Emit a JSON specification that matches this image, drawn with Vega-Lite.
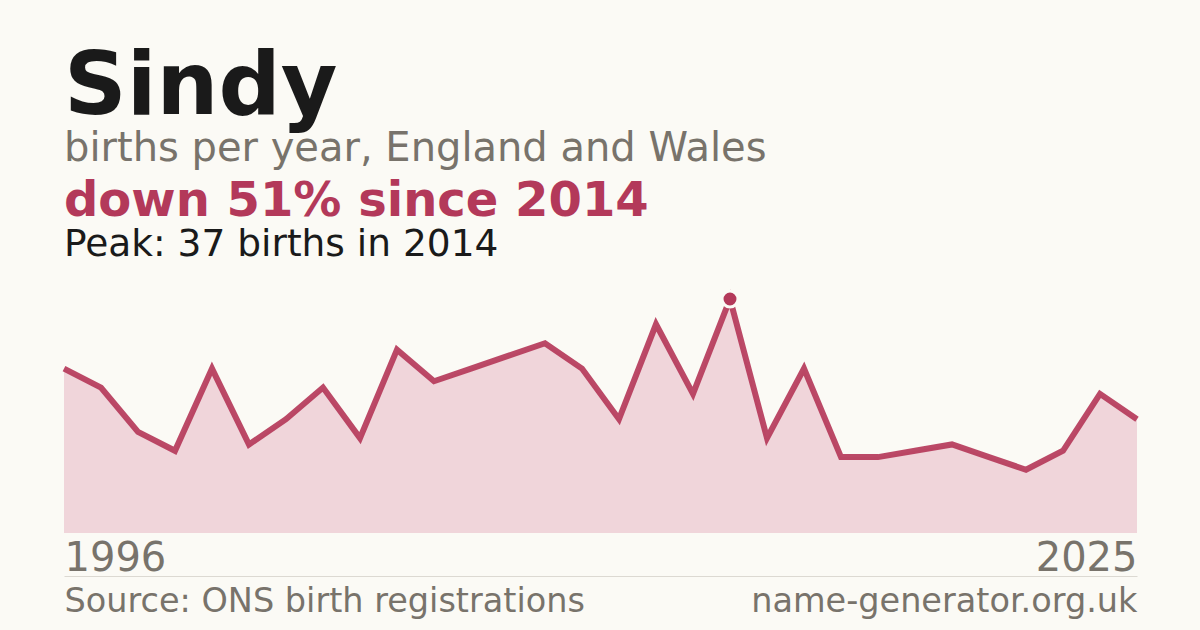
{
  "$schema": "https://vega.github.io/schema/vega-lite/v6.json",
  "background": "#fbfaf5",
  "padding": {"left": 52, "right": 51, "top": 44, "bottom": 14.5},
  "title": {
    "text": "Sindy",
    "subtitle": "births per year, England and Wales",
    "anchor": "start",
    "frame": "group",
    "font": "DejaVu Sans",
    "fontSize": 87,
    "fontWeight": "bold",
    "color": "#1a1a1a",
    "subtitleFont": "DejaVu Sans",
    "subtitleFontSize": 40,
    "subtitleFontWeight": "normal",
    "subtitleColor": "#78736b",
    "subtitlePadding": -3.3,
    "offset": 8.4
  },
  "data": {
    "values": [
      {"year": 1996, "births": 26},
      {"year": 1997, "births": 23},
      {"year": 1998, "births": 16},
      {"year": 1999, "births": 13},
      {"year": 2000, "births": 26},
      {"year": 2001, "births": 14},
      {"year": 2002, "births": 18},
      {"year": 2003, "births": 23},
      {"year": 2004, "births": 15},
      {"year": 2005, "births": 29},
      {"year": 2006, "births": 24},
      {"year": 2007, "births": 26},
      {"year": 2008, "births": 28},
      {"year": 2009, "births": 30},
      {"year": 2010, "births": 26},
      {"year": 2011, "births": 18},
      {"year": 2012, "births": 33},
      {"year": 2013, "births": 22},
      {"year": 2014, "births": 37},
      {"year": 2015, "births": 15},
      {"year": 2016, "births": 26},
      {"year": 2017, "births": 12},
      {"year": 2018, "births": 12},
      {"year": 2019, "births": 13},
      {"year": 2020, "births": 14},
      {"year": 2021, "births": 12},
      {"year": 2022, "births": 10},
      {"year": 2023, "births": 13},
      {"year": 2024, "births": 22},
      {"year": 2025, "births": 18}
    ]
  },
  "vconcat": [
    {
      "width": 1073,
      "height": 234,
      "title": {
        "text": "down 51% since 2014",
        "subtitle": "Peak: 37 births in 2014",
        "anchor": "start",
        "frame": "group",
        "font": "DejaVu Sans",
        "fontSize": 48,
        "fontWeight": "bold",
        "color": "#b3395a",
        "subtitleFont": "DejaVu Sans",
        "subtitleFontSize": 37.5,
        "subtitleFontWeight": "normal",
        "subtitleColor": "#1a1a1a",
        "subtitlePadding": -0.4,
        "offset": 21.8
      },
      "layer": [
        {
          "mark": {"type": "area", "color": "#f0d5da"},
          "encoding": {
            "x": {
              "field": "year",
              "type": "quantitative",
              "scale": {"domain": [1996, 2025], "nice": false, "zero": false},
              "axis": {
                "orient": "bottom",
                "values": [1996, 2025],
                "format": "d",
                "labelFlush": true,
                "labelFont": "DejaVu Sans",
                "labelFontSize": 40,
                "labelColor": "#78736b",
                "labelPadding": 5.5,
                "domain": false,
                "ticks": false,
                "tickSize": 0,
                "grid": false,
                "title": null
              }
            },
            "y": {
              "field": "births",
              "type": "quantitative",
              "scale": {"domain": [0, 37], "nice": false},
              "axis": null
            }
          }
        },
        {
          "mark": {"type": "line", "color": "#b5395a", "strokeWidth": 6, "opacity": 0.92},
          "encoding": {
            "x": {
              "field": "year",
              "type": "quantitative",
              "scale": {"domain": [1996, 2025], "nice": false, "zero": false},
              "axis": {
                "orient": "bottom",
                "offset": 43,
                "values": [1996, 2025],
                "labelExpr": "datum.value == 1996 ? 'Source: ONS birth registrations' : 'name-generator.org.uk'",
                "labelFlush": true,
                "labelLimit": 0,
                "labelFont": "DejaVu Sans",
                "labelFontSize": 33.5,
                "labelColor": "#78736b",
                "labelPadding": 9,
                "domain": true,
                "domainColor": "#dcd9d2",
                "domainWidth": 1,
                "ticks": false,
                "tickSize": 0,
                "grid": false,
                "title": null
              }
            },
            "y": {
              "field": "births",
              "type": "quantitative",
              "scale": {"domain": [0, 37], "nice": false},
              "axis": null
            }
          }
        },
        {
          "transform": [{"filter": "datum.year == 2014"}],
          "mark": {"type": "point", "filled": true, "size": 254, "color": "#b3395a", "stroke": "#fbfaf5", "strokeWidth": 3, "opacity": 1},
          "encoding": {
            "x": {
              "field": "year",
              "type": "quantitative",
              "scale": {"domain": [1996, 2025], "nice": false, "zero": false},
              "axis": null
            },
            "y": {
              "field": "births",
              "type": "quantitative",
              "scale": {"domain": [0, 37], "nice": false},
              "axis": null
            }
          }
        }
      ],
      "resolve": {"scale": {"x": "independent"}, "axis": {"x": "independent"}}
    }
  ],
  "config": {"view": {"stroke": null}, "font": "DejaVu Sans"}
}
